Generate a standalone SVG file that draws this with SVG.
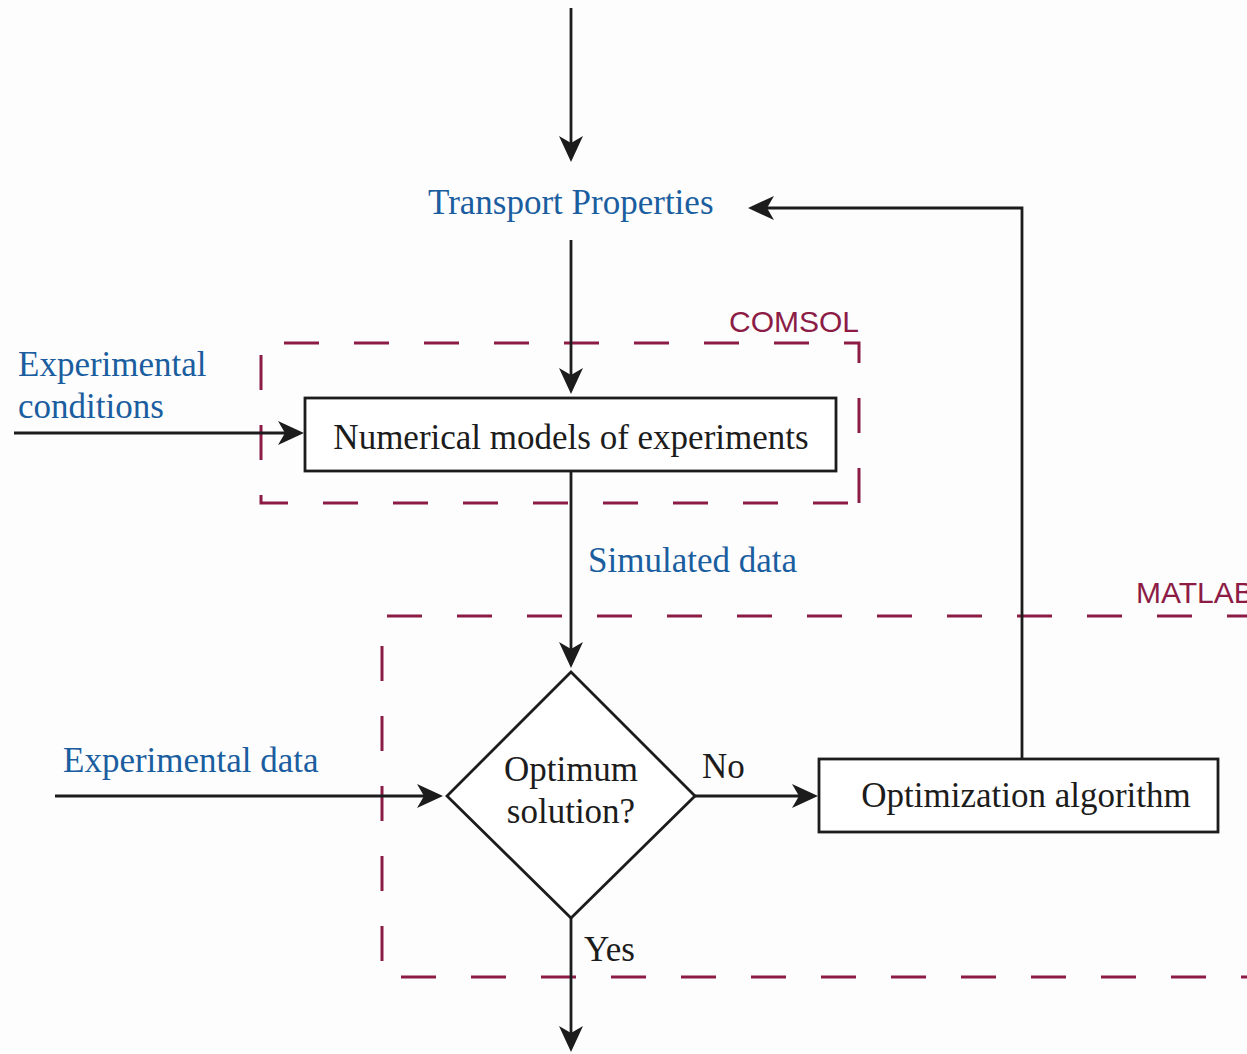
<svg xmlns="http://www.w3.org/2000/svg" width="1247" height="1054" viewBox="0 0 1247 1054">
  <style>
    .bg { fill: #fdfdfd; }
    .line { fill: none; stroke: #1c1c1c; stroke-width: 2.8; }
    .box { fill: #ffffff; stroke: #1c1c1c; stroke-width: 2.8; }
    .zone { fill: none; stroke: #8c1c46; stroke-width: 3; stroke-dasharray: 35 35; }
    .serif { font-family: "Liberation Serif", "Times New Roman", serif; font-size: 35px; }
    .dark { fill: #1c1c1c; }
    .blue { fill: #1b5e9f; }
    .zonelabel { font-family: "Liberation Sans", Arial, sans-serif; font-size: 30px; fill: #8c1c46; }
  </style>
  <defs>
    <marker id="arrow" viewBox="-28 -13 30 26" refX="-12" refY="0" markerWidth="30" markerHeight="26" markerUnits="userSpaceOnUse" orient="auto">
      <path d="M0,0 L-26,-12 L-19,0 L-26,12 Z" fill="#1c1c1c"/>
    </marker>
  </defs>

  <rect class="bg" x="0" y="0" width="1247" height="1054"/>

  <!-- software zones -->
  <g id="zone-comsol">
    <path class="zone" d="M859,503 V343 H261 V503 H859"/>
    <text class="zonelabel" x="729" y="332">COMSOL</text>
  </g>
  <g id="zone-matlab">
    <path class="zone" d="M1262,616 H382 V977 H1262"/>
    <text class="zonelabel" x="1136" y="603">MATLAB</text>
  </g>

  <!-- connectors -->
  <g id="connectors">
    <path class="line" d="M571,8 V150" marker-end="url(#arrow)"/>
    <path class="line" d="M571,240 V382" marker-end="url(#arrow)"/>
    <path class="line" d="M14,433 H292" marker-end="url(#arrow)"/>
    <path class="line" d="M571,471 V656" marker-end="url(#arrow)"/>
    <path class="line" d="M55,796 H431" marker-end="url(#arrow)"/>
    <path class="line" d="M695,796 H806" marker-end="url(#arrow)"/>
    <path class="line" d="M1022,759 V208 H760" marker-end="url(#arrow)"/>
    <path class="line" d="M571,918 V1040" marker-end="url(#arrow)"/>
  </g>

  <!-- nodes -->
  <g id="transport-properties">
    <text class="serif blue" x="428" y="214">Transport Properties</text>
  </g>
  <g id="experimental-conditions">
    <text class="serif blue" x="18" y="376">Experimental</text>
    <text class="serif blue" x="18" y="418">conditions</text>
  </g>
  <g id="numerical-models">
    <rect class="box" x="305" y="398" width="531" height="73"/>
    <text class="serif dark" x="571" y="449" text-anchor="middle">Numerical models of experiments</text>
  </g>
  <g id="simulated-data">
    <text class="serif blue" x="588" y="572">Simulated data</text>
  </g>
  <g id="experimental-data">
    <text class="serif blue" x="63" y="772">Experimental data</text>
  </g>
  <g id="optimum-decision">
    <path class="box" d="M571,672 L695,796 L571,918 L447,796 Z"/>
    <text class="serif dark" x="571" y="781" text-anchor="middle">Optimum</text>
    <text class="serif dark" x="571" y="823" text-anchor="middle">solution?</text>
  </g>
  <g id="optimization-algorithm">
    <rect class="box" x="819" y="759" width="399" height="73"/>
    <text class="serif dark" x="1026" y="807" text-anchor="middle">Optimization algorithm</text>
  </g>

  <!-- branch labels -->
  <g id="branch-labels">
    <text class="serif dark" x="702" y="778">No</text>
    <text class="serif dark" x="584" y="961">Yes</text>
  </g>
</svg>
